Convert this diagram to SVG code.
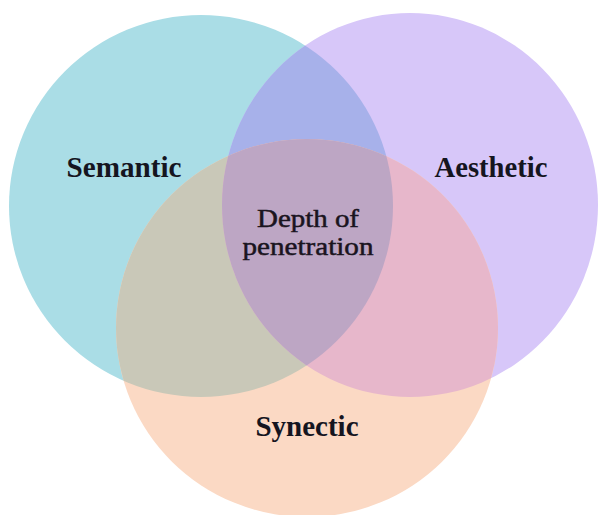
<svg xmlns="http://www.w3.org/2000/svg" width="599" height="515" viewBox="0 0 599 515">
<style>
.lbl{font-family:"Liberation Serif","Times New Roman",serif;font-weight:bold;fill:#15151f;text-anchor:middle}
.ctr{font-family:"Liberation Serif","Times New Roman",serif;fill:#1a1420;stroke:#1a1420;stroke-width:0.5;text-anchor:middle}
</style>
<defs>
<clipPath id="cS"><ellipse cx="201" cy="206" rx="192" ry="191"/></clipPath>
<clipPath id="cA"><ellipse cx="410" cy="205" rx="188" ry="192"/></clipPath>
<clipPath id="cY"><ellipse cx="307" cy="328" rx="191" ry="189"/></clipPath>
</defs>
<rect width="599" height="515" fill="#ffffff"/>
<g id="semantic">
<ellipse cx="201" cy="206" rx="192" ry="191" fill="#aadde6"/>
</g>
<g id="aesthetic">
<ellipse cx="410" cy="205" rx="188" ry="192" fill="#d7c7f9"/>
</g>
<g id="synectic">
<ellipse cx="307" cy="328" rx="191" ry="189" fill="#fbd9c4"/>
</g>
<g id="overlaps">
<g clip-path="url(#cS)"><ellipse cx="410" cy="205" rx="188" ry="192" fill="#a7b1ea"/></g>
<g clip-path="url(#cS)"><ellipse cx="307" cy="328" rx="191" ry="189" fill="#c9c8b8"/></g>
<g clip-path="url(#cA)"><ellipse cx="307" cy="328" rx="191" ry="189" fill="#e7b7cb"/></g>
<g clip-path="url(#cS)"><g clip-path="url(#cA)"><ellipse cx="307" cy="328" rx="191" ry="189" fill="#bda6c4"/></g></g>
</g>
<g id="labels">
<text class="lbl" x="124" y="177" font-size="30" textLength="115" lengthAdjust="spacingAndGlyphs">Semantic</text>
<text class="lbl" x="491" y="177" font-size="30" textLength="113" lengthAdjust="spacingAndGlyphs">Aesthetic</text>
<text class="lbl" x="307" y="436" font-size="29" textLength="103" lengthAdjust="spacingAndGlyphs">Synectic</text>
<text class="ctr" x="308" y="227" font-size="26" textLength="102" lengthAdjust="spacingAndGlyphs">Depth of</text>
<text class="ctr" x="308" y="255" font-size="26" textLength="131" lengthAdjust="spacingAndGlyphs">penetration</text>
</g>
</svg>
